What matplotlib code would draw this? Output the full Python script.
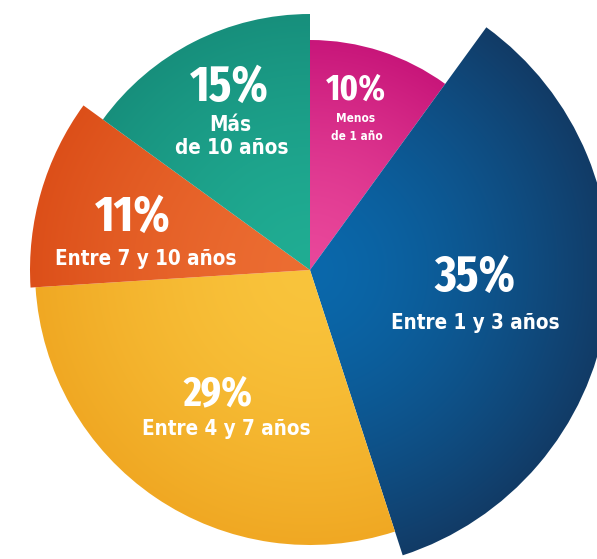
import numpy as np
import matplotlib
matplotlib.use("Agg")
import matplotlib.pyplot as plt
from matplotlib.patches import Wedge
from matplotlib.font_manager import FontProperties, fontManager
from matplotlib.colors import to_rgb

# data
categories = ["Menos\nde 1 año", "Entre 1 y 3 años", "Entre 4 y 7 años",
              "Entre 7 y 10 años", "Más\nde 10 años"]
values = [10, 35, 29, 11, 15]

# styling (one entry per slice, same order as the data)
radii = [230, 300, 275, 280, 256]
inner_colors = ["#e9479a", "#0a68ab", "#f9c43c", "#ec6d32", "#20ad93"]
outer_colors = ["#c8167a", "#123b66", "#f0a823", "#dc4f19", "#178f7c"]

# text anchors in pixels (center x, center y from top) and sizes
pct_pos = [(356, 90), (475, 278), (218, 394), (133, 218), (229, 88)]
pct_size = [26.5, 36, 30.5, 36, 36]
lab_pos = [[(356, 118), (357, 136)], [(475, 323)], [(226, 429)],
           [(146, 259)], [(230, 125), (232, 148)]]
lab_size = [8.5, 14.8, 14.8, 14.8, 14.8]

W, H = 597, 559
cx, cy = 310, H - 270


def squeeze_rank(f):
    n = (f.fname + f.name).lower().replace(" ", "").replace("-", "")
    if "extracondensed" in n or "ultracondensed" in n:
        return 0
    if "semicondensed" in n:
        return 2
    if "condensed" in n or "narrow" in n or "condensed" in str(f.stretch):
        return 1
    return 9


def weight_rank(f):
    return {"bold": 0, 700: 0, 800: 1, "heavy": 1,
            "black": 2, 900: 2}.get(f.weight, 9)


faces = [f for f in fontManager.ttflist
         if weight_rank(f) < 9 and squeeze_rank(f) < 9
         and f.style != "italic"]
if faces:
    lab_face = faces[0]
    num_face = min(faces, key=lambda f: (squeeze_rank(f), weight_rank(f)))
    num_prop = FontProperties(fname=num_face.fname)
    lab_prop = FontProperties(fname=lab_face.fname)
else:
    num_prop = FontProperties(family="DejaVu Sans", weight="bold")
    lab_prop = FontProperties(family="DejaVu Sans", weight="bold")

fig = plt.figure(figsize=(W / 100, H / 100), dpi=100)
ax = fig.add_axes([0, 0, 1, 1])
ax.set_xlim(0, W)
ax.set_ylim(0, H)
ax.set_aspect("equal")
ax.axis("off")

yy, xx = np.mgrid[0:H, 0:W] + 0.5

total = sum(values)
start = 90.0
for i, v in enumerate(values):
    span = 360.0 * v / total
    t2 = start
    t1 = start - span
    w = Wedge((cx, cy), radii[i], t1, t2, facecolor="none", edgecolor="none")
    ax.add_patch(w)
    d = np.clip(np.hypot(xx - cx, yy - cy) / radii[i], 0, 1)[..., None]
    ci = np.array(to_rgb(inner_colors[i]))
    co = np.array(to_rgb(outer_colors[i]))
    img = ci * (1 - d ** 1.5) + co * d ** 1.5
    im = ax.imshow(img, extent=(0, W, 0, H), origin="lower",
                   interpolation="bilinear", zorder=1)
    im.set_clip_path(w)
    start = t1

for i, cat in enumerate(categories):
    px, py = pct_pos[i]
    t = ax.text(px, H - py, f"{values[i]}%", ha="center", va="center",
                color="white", fontproperties=num_prop, zorder=3)
    t.set_fontsize(pct_size[i])
    for line, (lx, ly) in zip(cat.split("\n"), lab_pos[i]):
        t = ax.text(lx, H - ly, line, ha="center", va="center",
                    color="white", fontproperties=lab_prop, zorder=3)
        t.set_fontsize(lab_size[i])

fig.savefig("out.png", dpi=100)
